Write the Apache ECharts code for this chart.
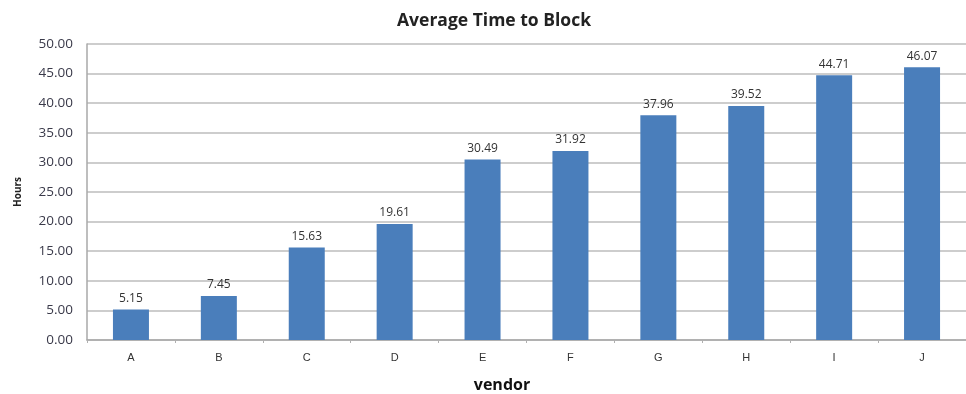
<!DOCTYPE html>
<html>
<head>
<meta charset="utf-8">
<script src="https://cdn.jsdelivr.net/npm/echarts@6/dist/echarts.min.js"></script>
<style>
  html, body { margin: 0; padding: 0; background: #ffffff; }
  #chart { width: 966px; height: 394px; }
</style>
</head>
<body>
<div id="chart"></div>
<script>
// Vendors and their average time to block, in hours
const vendors = ['A', 'B', 'C', 'D', 'E', 'F', 'G', 'H', 'I', 'J'];
const avgHours = [5.15, 7.45, 15.63, 19.61, 30.49, 31.92, 37.96, 39.52, 44.71, 46.07];
const yTicks = { min: 0, max: 50, interval: 5 };

const chart = echarts.init(document.getElementById('chart'), null, { renderer: 'canvas' });

chart.setOption({
  animation: false,
  backgroundColor: '#ffffff',
  title: [
    {
      text: 'Average Time to Block',
      left: 489,
      top: 7,
      textAlign: 'center',
      textStyle: { fontFamily: 'Open Sans', fontWeight: 'bold', fontSize: 17.5, color: '#222222' }
    },
    {
      // x-axis caption, sitting left of the plot centre
      text: 'vendor',
      left: 497,
      top: 372,
      textAlign: 'center',
      textStyle: { fontFamily: 'Open Sans', fontWeight: 'bold', fontSize: 16, color: '#111111' }
    }
  ],
  grid: { left: 87, top: 44, width: 886, height: 296, containLabel: false },
  xAxis: {
    type: 'category',
    data: vendors,
    axisLine: { show: true, lineStyle: { color: '#a8a8a8', width: 1.5 } },
    axisTick: { show: true, alignWithLabel: false, length: 3, lineStyle: { color: '#b0b0b0' } },
    axisLabel: { margin: 12, fontFamily: 'Liberation Sans', fontSize: 11, color: '#333333' },
    splitLine: { show: false }
  },
  yAxis: {
    type: 'value',
    min: yTicks.min,
    max: yTicks.max,
    interval: yTicks.interval,
    name: 'Hours',
    nameLocation: 'middle',
    nameRotate: 90,
    nameGap: 64,
    nameTextStyle: { fontFamily: 'Open Sans', fontWeight: 'bold', fontSize: 10, color: '#222222' },
    axisLine: { show: true, lineStyle: { color: '#a8a8a8', width: 1.5 } },
    axisTick: { show: false },
    axisLabel: {
      margin: 14,
      fontFamily: 'Open Sans',
      fontSize: 13.5,
      color: '#3a3a4a',
      formatter: v => v.toFixed(2)
    },
    splitLine: { show: true, lineStyle: { color: '#bdbdbd', width: 1.5 } }
  },
  series: [{
    type: 'bar',
    data: avgHours,
    barWidth: 36,
    itemStyle: { color: '#4a7ebb' },
    label: {
      show: true,
      position: 'top',
      distance: 5,
      fontFamily: 'Open Sans',
      fontSize: 12,
      color: '#333333',
      formatter: p => p.value.toFixed(2)
    }
  }]
});
</script>
</body>
</html>
